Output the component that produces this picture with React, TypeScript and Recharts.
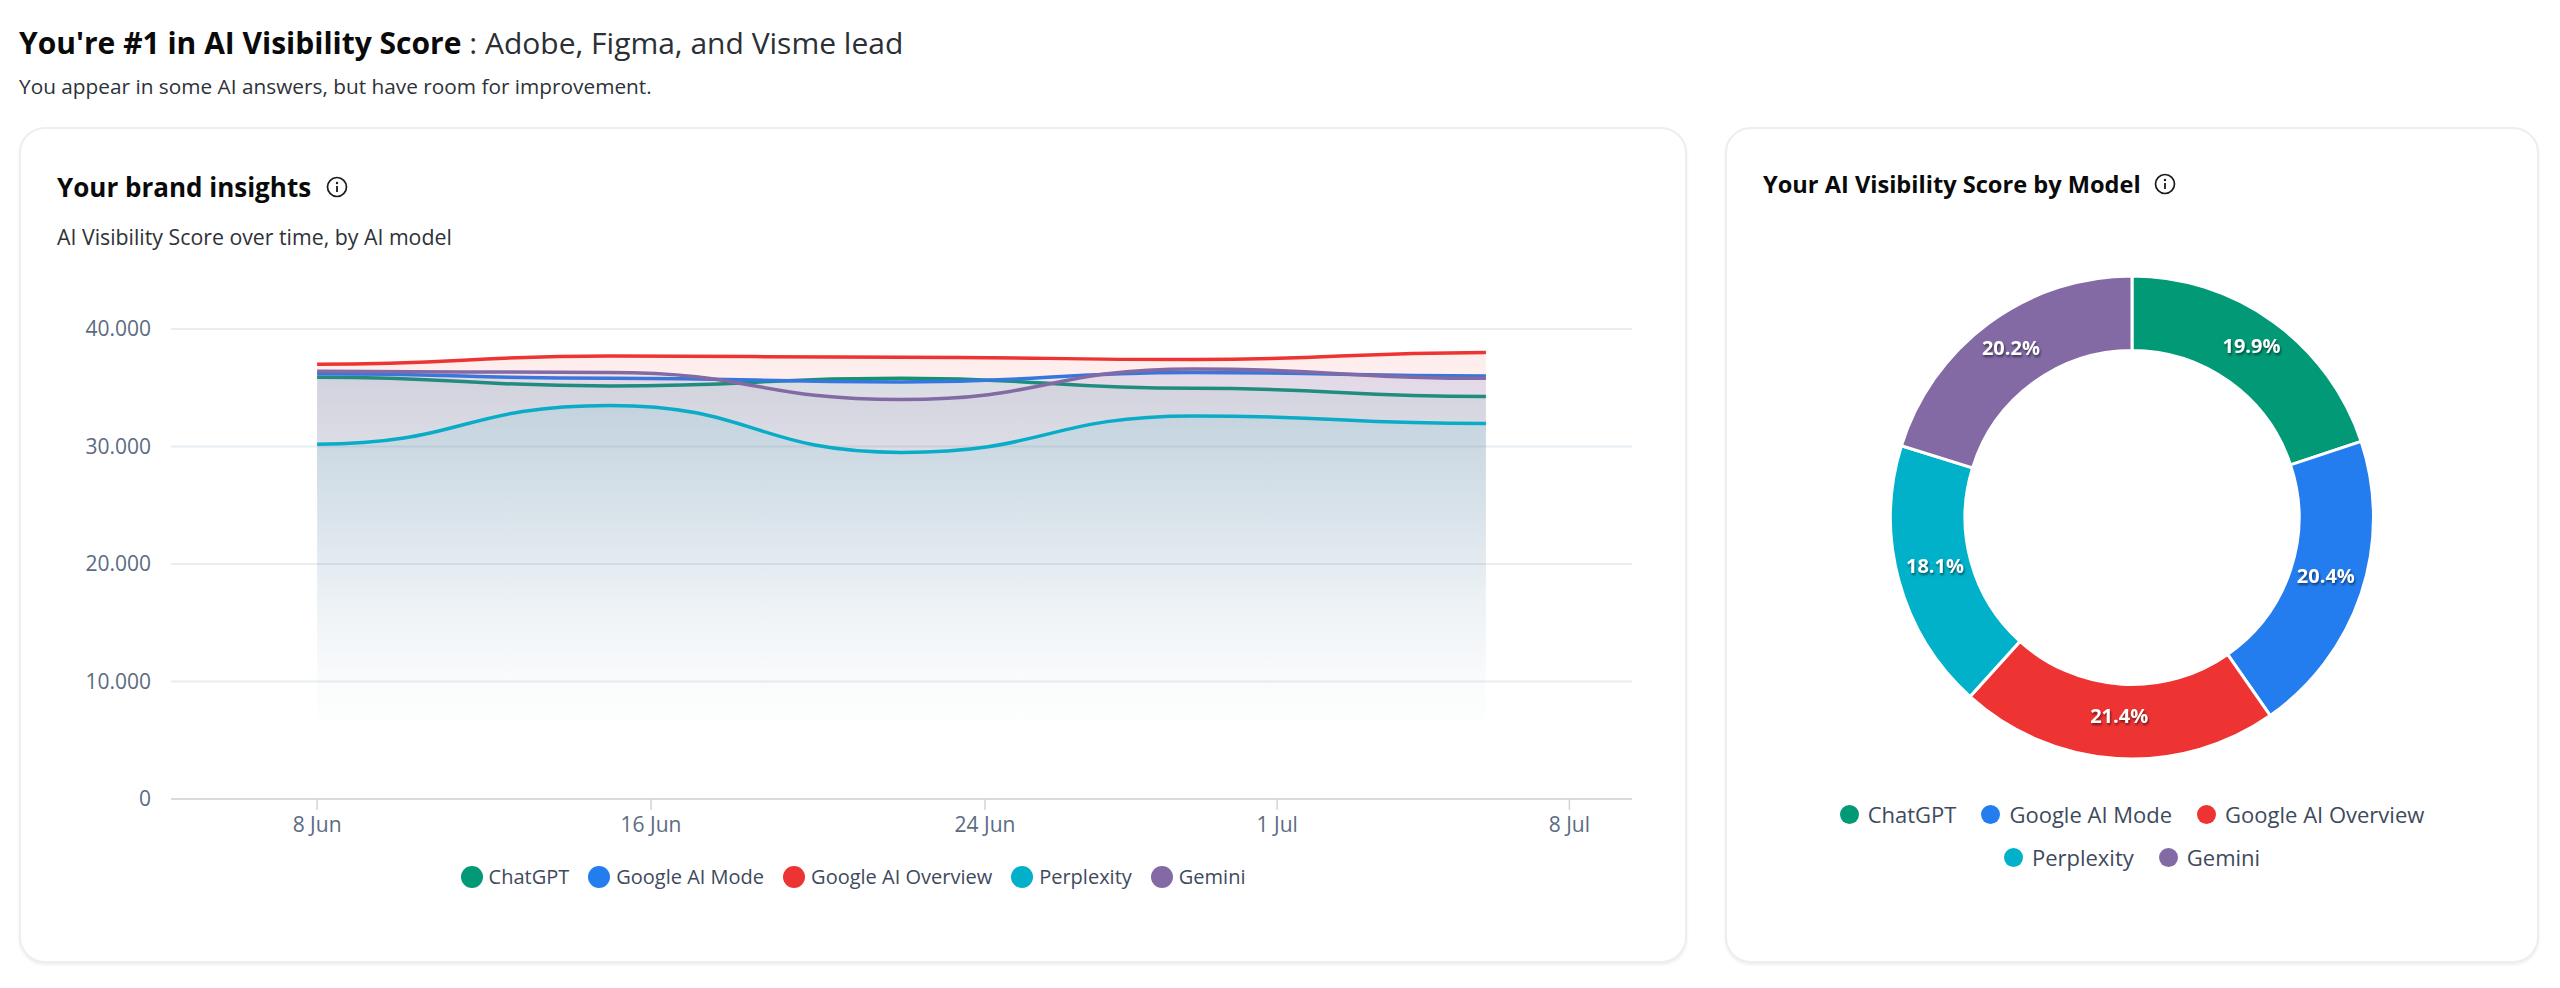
import React from "react";
import {
  AreaChart,
  Area,
  XAxis,
  YAxis,
  CartesianGrid,
  Legend,
  PieChart,
  Pie,
  Cell,
} from "recharts";

const FONT = '"Open Sans", "Noto Sans", sans-serif';

const modelNames = ["ChatGPT", "Google AI Mode", "Google AI Overview", "Perplexity", "Gemini"];
const modelColors = ["#029a76", "#247dee", "#ee3333", "#00b1c9", "#836aa5"];

// one reading per week
const weekDates = [
  Date.UTC(2025, 5, 8),
  Date.UTC(2025, 5, 15),
  Date.UTC(2025, 5, 22),
  Date.UTC(2025, 5, 29),
  Date.UTC(2025, 6, 6),
];
const chatgptScores = [35900, 35150, 35800, 34950, 34250];
const aiModeScores = [36200, 35800, 35500, 36300, 36000];
const aiOverviewScores = [37000, 37700, 37600, 37400, 38000];
const perplexityScores = [30200, 33500, 29500, 32600, 31950];
const geminiScores = [36400, 36300, 34000, 36600, 35800];

const seriesKeys = ["chatgpt", "aiMode", "aiOverview", "perplexity", "gemini"];
const seriesValues = [chatgptScores, aiModeScores, aiOverviewScores, perplexityScores, geminiScores];

const modelShares = [19.9, 20.4, 21.4, 18.1, 20.2];

const yTicks = [0, 10000, 20000, 30000, 40000];
const xTicks = [
  Date.UTC(2025, 5, 8),
  Date.UTC(2025, 5, 16),
  Date.UTC(2025, 5, 24),
  Date.UTC(2025, 6, 1),
  Date.UTC(2025, 6, 8),
];
const xTickLabels = ["8 Jun", "16 Jun", "24 Jun", "1 Jul", "8 Jul"];
const xDomain = [Date.UTC(2025, 5, 4, 12), Date.UTC(2025, 6, 9, 12)];

// soft fade under the lines
const fadeOffsets = ["0%", "20%", "55%", "72%", "86%"];
const fadeOpacities = [0.09, 0.062, 0.02, 0.006, 0];

const trendData = weekDates.map((date, i) => {
  const row: Record<string, number> = { date };
  seriesKeys.forEach((key, s) => {
    row[key] = seriesValues[s][i];
  });
  return row;
});

const shareData = modelNames.map((name, i) => ({ name, value: modelShares[i] }));

function InfoIcon({ left, top }: { left: number; top: number }) {
  return (
    <svg width={24} height={24} viewBox="0 0 24 24" style={{ position: "absolute", left, top }}>
      <circle cx={12} cy={12} r={9.5} fill="none" stroke="#1a1a1a" strokeWidth={1.7} />
      <rect x={11.1} y={11} width={1.8} height={6} fill="#1a1a1a" />
      <circle cx={12} cy={8} r={1.2} fill="#1a1a1a" />
    </svg>
  );
}

function ModelLegend({ size, dot, gap, iconGap }: { size: number; dot: number; gap: number; iconGap: number }) {
  return (
    <div
      style={{
        display: "flex",
        flexWrap: "wrap",
        justifyContent: "center",
        alignItems: "center",
        columnGap: gap,
        rowGap: 12,
        fontFamily: FONT,
        fontSize: size,
        lineHeight: "31px",
        color: "#3e4a5c",
      }}
    >
      {modelNames.map((name, i) => (
        <span key={name} style={{ display: "inline-flex", alignItems: "center", gap: iconGap }}>
          <span
            style={{
              display: "inline-block",
              width: dot,
              height: dot,
              borderRadius: "50%",
              backgroundColor: modelColors[i],
            }}
          />
          {name}
        </span>
      ))}
    </div>
  );
}

function ShareLabel(props: any) {
  const { cx, cy, midAngle, innerRadius, outerRadius, index } = props;
  const r = (innerRadius + outerRadius) / 2;
  const rad = (midAngle * Math.PI) / 180;
  return (
    <text
      x={cx + r * Math.cos(rad)}
      y={cy - r * Math.sin(rad) - 6}
      textAnchor="middle"
      dominantBaseline="central"
      fill="#ffffff"
      fontFamily={FONT}
      fontSize={20}
      fontWeight={700}
      style={{ filter: "drop-shadow(1px 2px 1px rgba(0,0,0,0.5))" }}
    >
      {modelShares[index].toFixed(1)}%
    </text>
  );
}

const cardStyle: React.CSSProperties = {
  position: "absolute",
  boxSizing: "border-box",
  background: "#fff",
  border: "2px solid #eceef1",
  borderRadius: 26,
  boxShadow: "0 2px 3px rgba(16,24,40,0.07)",
};

const textStyle = (left: number, top: number, size: number, weight: number, color: string): React.CSSProperties => ({
  position: "absolute",
  left,
  top,
  fontFamily: FONT,
  fontSize: size,
  fontWeight: weight,
  color,
  whiteSpace: "nowrap",
  lineHeight: 1.2,
});

export default function App() {
  return (
    <div style={{ position: "absolute", left: 0, top: 0, width: 2560, height: 988, background: "#fff", overflow: "hidden" }}>
      <div style={textStyle(19, 25, 30, 400, "#2b2f36")}>
        <span style={{ fontWeight: 700, color: "#0a0a0a" }}>You're #1 in AI Visibility Score</span> : Adobe, Figma, and Visme lead
      </div>
      <div style={textStyle(19, 74, 20.8, 400, "#2e3238")}>You appear in some AI answers, but have room for improvement.</div>

      <div style={{ ...cardStyle, left: 19, top: 127, width: 1668, height: 836 }} />
      <div style={{ ...cardStyle, left: 1725, top: 127, width: 814, height: 836 }} />

      <div style={textStyle(57, 172, 26, 700, "#0a0a0a")}>Your brand insights</div>
      <InfoIcon left={325} top={175} />
      <div style={textStyle(57, 224, 21.3, 400, "#2e3238")}>AI Visibility Score over time, by AI model</div>

      <div style={textStyle(1763, 170, 23.6, 700, "#0a0a0a")}>Your AI Visibility Score by Model</div>
      <InfoIcon left={2153} top={172} />

      <div style={{ position: "absolute", left: 21, top: 300 }}>
        <AreaChart
          width={1660}
          height={620}
          data={trendData}
          margin={{ top: 29, right: 49, bottom: 51, left: 0 }}
        >
          <defs>
            {seriesKeys.map((key, i) => (
              <linearGradient key={key} id={`fill-${key}`} x1="0" y1="0" x2="0" y2="1">
                {fadeOffsets.map((offset, s) => (
                  <stop key={offset} offset={offset} stopColor={modelColors[i]} stopOpacity={fadeOpacities[s]} />
                ))}
              </linearGradient>
            ))}
          </defs>
          <CartesianGrid vertical={false} stroke="#e8edf2" strokeWidth={2} />
          <XAxis
            dataKey="date"
            type="number"
            scale="time"
            domain={xDomain}
            ticks={xTicks}
            tickFormatter={(v: number) => xTickLabels[xTicks.indexOf(v)]}
            height={40}
            tick={{ fill: "#5b6b82", fontSize: 21, fontFamily: FONT }}
            tickSize={11}
            tickMargin={7}
            tickLine={{ stroke: "#ccd6de", strokeWidth: 1.5 }}
            axisLine={{ stroke: "#d9dbdd", strokeWidth: 2 }}
            interval={0}
          />
          <YAxis
            domain={[0, 40000]}
            ticks={yTicks}
            width={150}
            tickFormatter={(v: number) => (v === 0 ? "0" : (v / 1000).toFixed(3))}
            tick={{ fill: "#5b6b82", fontSize: 21, fontFamily: FONT }}
            tickLine={false}
            axisLine={false}
            tickMargin={14}
          />
          {seriesKeys.map((key, i) => (
            <Area
              key={key}
              type="bumpX"
              dataKey={key}
              name={modelNames[i]}
              stroke={modelColors[i]}
              strokeWidth={3.5}
              fill={`url(#fill-${key})`}
              fillOpacity={1}
              dot={false}
              activeDot={false}
              isAnimationActive={false}
            />
          ))}
          <Legend
            height={30}
            wrapperStyle={{ left: 2, top: 561, width: 1660 }}
            content={() => <ModelLegend size={20} dot={22} gap={19} iconGap={6} />}
          />
        </AreaChart>
      </div>

      <div style={{ position: "absolute", left: 1726, top: 250 }}>
        <PieChart width={812} height={640} margin={{ top: 0, right: 0, bottom: 0, left: 0 }}>
          <Pie
            data={shareData}
            dataKey="value"
            nameKey="name"
            cx={406}
            cy={267.5}
            innerRadius={167}
            outerRadius={241.5}
            startAngle={90}
            endAngle={-270}
            stroke="#ffffff"
            strokeWidth={3}
            label={ShareLabel}
            labelLine={false}
            isAnimationActive={false}
          >
            {shareData.map((d, i) => (
              <Cell key={d.name} fill={modelColors[i]} />
            ))}
          </Pie>
          <Legend
            wrapperStyle={{ left: 96, top: 549, width: 620 }}
            content={() => <ModelLegend size={22} dot={19} gap={25} iconGap={9} />}
          />
        </PieChart>
      </div>
    </div>
  );
}
